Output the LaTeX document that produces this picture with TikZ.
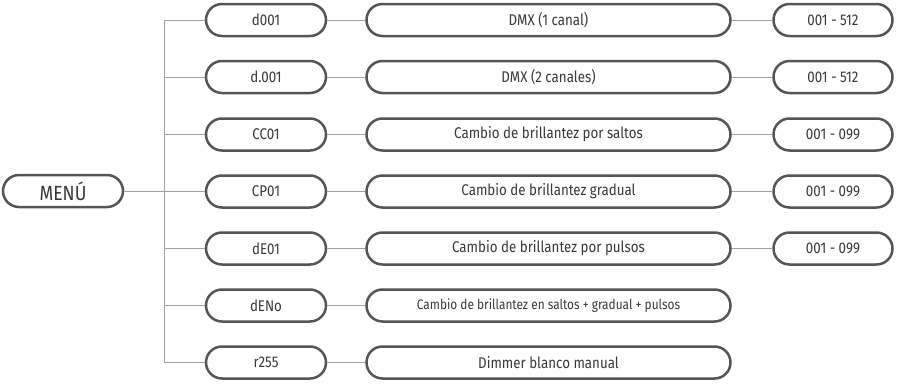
\documentclass[tikz,border=0pt]{standalone}
\usepackage{fontspec}
\setmainfont{Fira Sans}[FakeStretch=0.86]
\usepackage{tikz}
\usetikzlibrary{positioning,shapes.misc}
\definecolor{pillgray}{HTML}{555555}
\definecolor{linegray}{HTML}{A0A0A0}
\definecolor{textgray}{HTML}{383838}
\tikzstyle{pill} = [rounded rectangle, draw=pillgray, line width=2.5pt, minimum height=32pt, inner sep=0pt, text=textgray, font=\fontsize{15.5}{18}\selectfont]
\tikzstyle{codebox} = [pill, minimum width=120pt]
\tikzstyle{descbox} = [pill, minimum width=364pt]
\tikzstyle{valuebox} = [pill, minimum width=119pt]
\tikzstyle{link} = [draw=linegray, line width=1pt]

\begin{document}
\begin{tikzpicture}[x=1pt,y=-1pt]
\useasboundingbox (0,0) rectangle (897,388);

\node [codebox, font=\fontsize{20.5}{24}\selectfont] (menu) at (63,191) {MENÚ};
\coordinate (bus) at (164,0);

\node [codebox] (c1) at (266,20) {d001};
\node [descbox] (d1) at (548.5,20) {DMX (1 canal)};
\node [valuebox] (v1) at (833,20) {001 - 512};

\node [codebox] (c2) at (266,77) {d.001};
\node [descbox] (d2) at (548.5,77) {DMX (2 canales)};
\node [valuebox] (v2) at (833,77) {001 - 512};

\node [codebox] (c3) at (266,134.5) {CC01};
\node [descbox] (d3) at (548.5,134.5) {Cambio de brillantez por saltos};
\node [valuebox] (v3) at (833,134.5) {001 - 099};

\node [codebox] (c4) at (266,191.5) {CP01};
\node [descbox] (d4) at (548.5,191.5) {Cambio de brillantez gradual};
\node [valuebox] (v4) at (833,191.5) {001 - 099};

\node [codebox] (c5) at (266,248.5) {dE01};
\node [descbox] (d5) at (548.5,248.5) {Cambio de brillantez por pulsos};
\node [valuebox] (v5) at (833,248.5) {001 - 099};

\node [codebox] (c6) at (266,305.5) {dENo};
\node [descbox, font=\fontsize{13.8}{16}\selectfont] (d6) at (548.5,305.5) {Cambio de brillantez en saltos + gradual + pulsos};

\node [codebox] (c7) at (266,362.5) {r255};
\node [descbox] (d7) at (548.5,362.5) {Dimmer blanco manual};

\draw [link] (menu.east) -- (menu.east -| bus);
\draw [link] (c1.west -| bus) -- (c7.west -| bus);

\draw [link] (c1.west -| bus) -- (c1.west);
\draw [link] (c2.west -| bus) -- (c2.west);
\draw [link] (c3.west -| bus) -- (c3.west);
\draw [link] (c4.west -| bus) -- (c4.west);
\draw [link] (c5.west -| bus) -- (c5.west);
\draw [link] (c6.west -| bus) -- (c6.west);
\draw [link] (c7.west -| bus) -- (c7.west);

\draw [link] (c1.east) -- (d1.west);
\draw [link] (c2.east) -- (d2.west);
\draw [link] (c3.east) -- (d3.west);
\draw [link] (c4.east) -- (d4.west);
\draw [link] (c5.east) -- (d5.west);
\draw [link] (c6.east) -- (d6.west);
\draw [link] (c7.east) -- (d7.west);

\draw [link] (d1.east) -- (v1.west);
\draw [link] (d2.east) -- (v2.west);
\draw [link] (d3.east) -- (v3.west);
\draw [link] (d4.east) -- (v4.west);
\draw [link] (d5.east) -- (v5.west);
\end{tikzpicture}
\end{document}
